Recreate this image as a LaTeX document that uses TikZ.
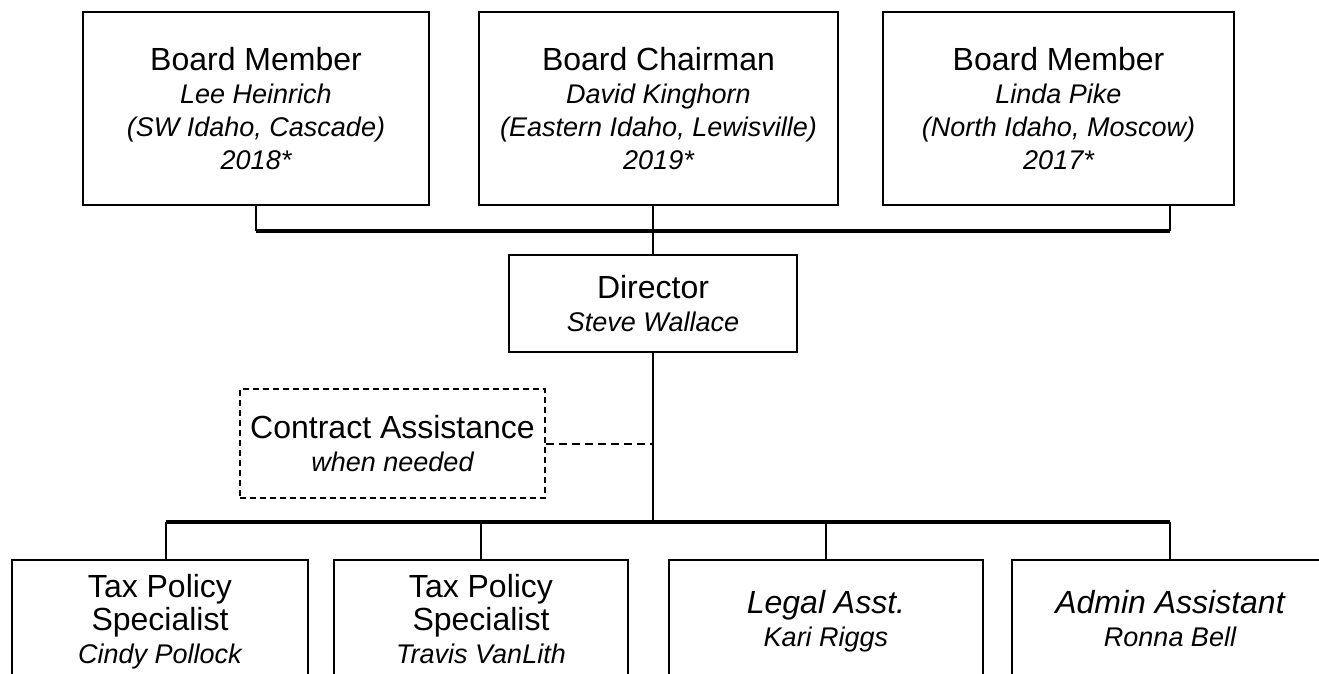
\documentclass[tikz,border=0pt]{standalone}
\usepackage{fontspec}
\setmainfont{Liberation Sans}
\newcommand\BigT{\fontsize{32}{33}\selectfont}
\newcommand\SmallT{\fontsize{27}{31}\selectfont\itshape}
\tikzset{
  box/.style={draw, line width=1.5pt, align=center, inner sep=0pt, font=\BigT},
  lowbox/.style={box, minimum height=124pt, text depth=7pt},
  dbox/.style={box, dash pattern=on 6pt off 4pt},
  bar/.style={line width=3.5pt},
  stem/.style={line width=2.5pt},
  dline/.style={line width=2pt, dash pattern=on 8pt off 5pt}
}
\begin{document}
\begin{tikzpicture}[x=1pt,y=-1pt]
\useasboundingbox (0,0) rectangle (1319,673);
\clip (0,0) rectangle (1319,673);
% top boxes
\node[box, minimum width=346pt, minimum height=193pt] (b1) at (256,108.5)
  {Board Member\\{\SmallT Lee Heinrich}\\{\SmallT (SW Idaho, Cascade)}\\{\SmallT 2018*}};
\node[box, minimum width=359pt, minimum height=193pt] (b2) at (658.5,108.5)
  {Board Chairman\\{\SmallT David Kinghorn}\\{\SmallT (Eastern Idaho, Lewisville)}\\{\SmallT 2019*}};
\node[box, minimum width=351pt, minimum height=193pt] (b3) at (1058.5,108.5)
  {Board Member\\{\SmallT Linda Pike}\\{\SmallT (North Idaho, Moscow)}\\{\SmallT 2017*}};
% director
\node[box, minimum width=288pt, minimum height=97pt] (dir) at (653,303.5)
  {Director\\{\SmallT Steve Wallace}};
% contract assistance
\node[dbox, minimum width=305pt, minimum height=109pt] (ca) at (392.5,443.5)
  {Contract Assistance\\{\SmallT when needed}};
% bottom boxes
\node[lowbox, minimum width=296pt] (t1) at (160,622)
  {Tax Policy\\Specialist\\{\SmallT Cindy Pollock}};
\node[lowbox, minimum width=294pt] (t2) at (481,622)
  {Tax Policy\\Specialist\\{\SmallT Travis VanLith}};
\node[lowbox, minimum width=314pt] (t3) at (826,622)
  {{\itshape Legal Asst.}\\{\SmallT Kari Riggs}};
\node[lowbox, minimum width=316pt] (t4) at (1170,622)
  {{\itshape Admin Assistant}\\{\SmallT Ronna Bell}};
% top connectors
\coordinate (tbl) at (256,231);
\coordinate (tbr) at (1170,231);
\draw[stem] (b1.south -| tbl) -- (tbl);
\draw[stem] (b3.south -| tbr) -- (tbr);
\draw[bar] (tbl) -- (tbr);
\draw[stem] (dir.north) -- (dir.north |- b2.south);
% bottom connectors
\coordinate (bbl) at (166,522);
\coordinate (bbr) at (1170,522);
\draw[stem] (dir.south) -- (dir.south |- bbl);
\draw[bar] (bbl) -- (bbr);
\draw[stem] (bbl) -- (bbl |- t1.north);
\draw[stem] (bbl -| t2.north) -- (t2.north);
\draw[stem] (bbl -| t3.north) -- (t3.north);
\draw[stem] (bbr) -- (bbr |- t4.north);
\draw[dline] (ca.east) -- (ca.east -| dir.south);
\end{tikzpicture}
\end{document}
